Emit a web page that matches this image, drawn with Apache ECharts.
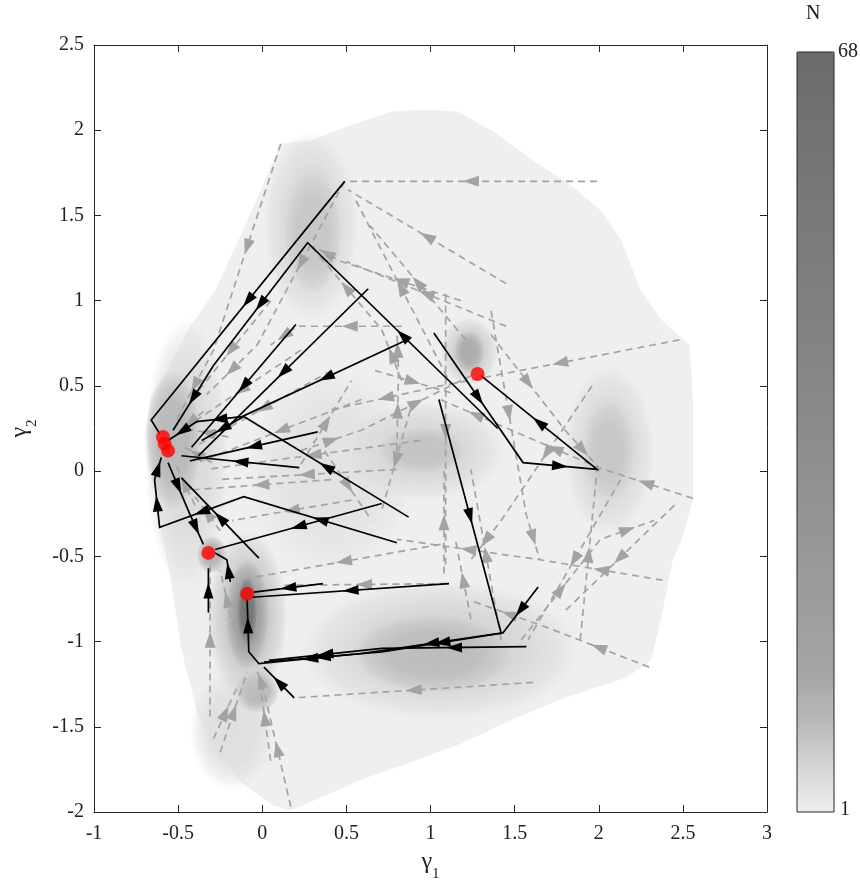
<!DOCTYPE html>
<html><head><meta charset="utf-8">
<script src="https://cdn.jsdelivr.net/npm/echarts@6/dist/echarts.min.js"></script>
<style>html,body{margin:0;padding:0;background:#fff}#c{width:860px;height:892px}</style>
</head><body><div id="c"></div>
<script>
// Outline of the density region (gamma1, gamma2)
const hull = [
 [0.11,1.92],[0.29,1.94],[0.50,2.02],[0.77,2.11],[0.97,2.12],[1.16,2.11],[1.36,2.00],[1.60,1.83],
 [1.83,1.68],[2.01,1.53],[2.13,1.36],[2.25,1.06],[2.37,0.89],[2.54,0.74],[2.56,0.42],[2.56,-0.17],
 [2.49,-0.41],[2.44,-0.52],[2.37,-0.87],[2.31,-1.11],[2.17,-1.21],[1.77,-1.34],[1.48,-1.46],[1.18,-1.60],
 [0.88,-1.71],[0.59,-1.81],[0.41,-1.89],[0.17,-1.99],[0.06,-1.96],[-0.12,-1.83],[-0.28,-1.64],[-0.38,-1.44],
 [-0.48,-1.05],[-0.54,-0.66],[-0.60,-0.35],[-0.66,0.05],[-0.69,0.24],[-0.66,0.43],[-0.52,0.67],[-0.44,0.83],
 [-0.28,1.06],[-0.12,1.40],[0.01,1.69]
];
// Density blobs: [gamma1, gamma2, radius1, radius2, N]
const densityBlobs = [
 [0.41,0.00,0.50,0.60,3],[-0.18,-1.52,0.25,0.35,3.5],[-0.45,0.10,0.25,0.80,4],
 [0.29,1.44,0.28,0.56,4.5],[0.30,1.40,0.17,0.36,7],
 [1.23,0.70,0.17,0.20,6],[1.23,0.70,0.09,0.12,12],
 [0.97,0.12,0.47,0.29,4.5],[0.95,0.12,0.26,0.14,7.5],
 [2.06,0.12,0.27,0.50,4.5],[2.06,0.12,0.15,0.29,7],
 [1.06,-1.05,0.83,0.41,5],[1.02,-1.07,0.47,0.23,8.5],
 [-0.53,0.18,0.17,0.41,9],[-0.30,-0.49,0.09,0.11,10],[-0.03,-1.29,0.13,0.13,9],
 [-0.09,-0.85,0.24,0.50,7],[-0.09,-0.84,0.13,0.32,20],[-0.09,-0.82,0.06,0.20,60]
];
// Solid (black) trajectories
const blackPaths = [
 [[0.49,1.70],[-0.66,0.30],[-0.61,0.22]],
 [[1.40,0.25],[0.27,1.34],[-0.29,0.62],[-0.53,0.24]],
 [[0.20,0.86],[-0.42,0.14]],
 [[0.63,1.07],[-0.38,0.09]],
 [[0.88,0.78],[-0.12,0.32],[-0.39,0.29],[-0.56,0.18]],
 [[0.33,0.23],[-0.43,0.06]],
 [[0.22,0.02],[-0.48,0.09]],
 [[0.87,-0.27],[-0.11,0.32],[-0.36,0.18]],
 [[1.02,0.81],[1.55,0.05],[1.99,0.01],[1.30,0.56]],
 [[1.05,0.42],[1.42,-0.95],[0.59,-1.07],[-0.02,-1.13],[-0.08,-1.06],[-0.09,-0.75]],
 [[1.64,-0.68],[1.43,-0.95],[0.71,-1.06],[0.01,-1.12]],
 [[1.57,-1.03],[0.71,-1.04],[0.04,-1.11]],
 [[0.19,-1.33],[0.01,-1.15]],
 [[1.11,-0.66],[-0.06,-0.74]],
 [[0.36,-0.66],[-0.05,-0.71]],
 [[0.71,-0.19],[-0.28,-0.46]],
 [[0.80,-0.42],[-0.11,-0.15],[-0.61,-0.33],[-0.64,-0.05],[-0.60,0.08]],
 [[-0.02,-0.51],[-0.48,-0.04]],
 [[-0.32,-0.83],[-0.32,-0.57]],
 [[-0.19,-0.65],[-0.21,-0.52],[-0.28,-0.48]],
 [[-0.56,0.05],[-0.44,-0.23],[-0.35,-0.43]]
];
// Dashed (grey) trajectories
const greyPaths = [
 [[1.99,1.70],[0.49,1.70]],
 [[1.45,1.10],[0.51,1.65]],
 [[1.10,0.55],[0.55,1.60]],
 [[0.11,1.92],[-0.29,0.71],[-0.51,0.30]],
 [[0.49,1.70],[-0.03,0.74],[-0.33,0.45]],
 [[1.18,1.00],[0.47,1.23],[0.30,1.32]],
 [[1.21,0.77],[0.64,1.44]],
 [[0.83,0.85],[0.21,0.85],[0.05,0.74]],
 [[1.45,0.85],[0.50,1.23]],
 [[1.09,1.04],[1.09,-0.58]],
 [[1.08,-0.60],[1.08,0.00]],
 [[1.36,0.94],[1.57,-0.26],[1.65,-0.52]],
 [[2.48,0.77],[1.06,0.50],[0.41,0.36]],
 [[0.23,0.12],[0.59,0.24],[1.24,0.56]],
 [[1.96,0.50],[1.42,-0.29],[1.24,-0.52]],
 [[2.56,-0.16],[2.00,0.02],[1.48,0.24],[1.06,0.42]],
 [[2.45,-0.20],[1.80,-0.82]],
 [[1.89,-0.99],[1.99,0.01]],
 [[1.36,0.80],[1.80,0.24],[2.01,0.01]],
 [[2.38,-0.64],[1.65,-0.52],[0.80,-0.40]],
 [[2.13,-0.05],[1.58,-0.99]],
 [[2.30,-1.15],[1.70,-0.92],[1.24,-0.76]],
 [[1.61,-1.24],[0.19,-1.33]],
 [[1.10,-0.66],[0.11,-0.67]],
 [[1.06,-0.43],[-0.09,-0.63]],
 [[0.17,-1.97],[0.01,-1.29],[-0.03,-1.17]],
 [[0.05,-1.70],[-0.02,-1.20]],
 [[-0.25,-1.65],[-0.09,-1.18]],
 [[-0.29,-1.57],[-0.15,-1.27]],
 [[-0.31,-1.44],[-0.31,-0.54]],
 [[-0.17,-0.93],[-0.25,-0.58]],
 [[0.41,0.59],[-0.39,0.15]],
 [[0.59,0.42],[-0.36,0.06]],
 [[0.94,0.18],[-0.33,0.01]],
 [[0.80,0.01],[-0.27,-0.05]],
 [[0.41,-0.05],[-0.42,-0.11]],
 [[0.53,-0.17],[-0.18,-0.29]],
 [[0.23,0.71],[-0.48,0.24]],
 [[0.05,1.00],[-0.42,0.42]],
 [[0.80,0.12],[0.81,0.59],[0.80,0.83]],
 [[0.23,0.04],[0.53,0.53]],
 [[0.88,0.36],[0.71,-0.23]],
 [[0.37,0.12],[0.65,-0.29]],
 [[0.67,0.59],[1.12,0.46]],
 [[1.24,-0.87],[1.15,-0.41]],
 [[1.42,-0.99],[1.24,0.01]],
 [[1.54,-0.99],[2.01,-0.40],[2.33,-0.29]],
 [[0.83,0.53],[0.71,0.83],[0.29,1.32]],
 [[-0.35,0.35],[-0.50,0.22]],
 [[-0.30,0.05],[-0.48,0.15]],
 [[-0.40,-0.20],[-0.52,0.05]],
 [[-0.25,-0.35],[-0.40,-0.15]],
 [[-0.20,0.20],[-0.45,0.25]]
];
// Red end points
const endPoints = [[1.28,0.57],[-0.59,0.20],[-0.58,0.16],[-0.56,0.12],[-0.32,-0.48],[-0.09,-0.72]];
// Colour bar
const cbN = [1, 3, 6, 9, 14, 35, 68];
const cbGrey = [238, 226, 206, 184, 163, 139, 107];
const cbMin = 1, cbMax = 68;

function greyAt(n){
  let i = 0;
  while (i < cbN.length - 2 && n > cbN[i+1]) i++;
  const t = Math.max(0, Math.min(1, (n - cbN[i]) / (cbN[i+1] - cbN[i])));
  const g = Math.round(cbGrey[i] + t * (cbGrey[i+1] - cbGrey[i]));
  return 'rgb(' + g + ',' + g + ',' + g + ')';
}
const cbColors = [];
for (let n = cbMin; n <= cbMax; n++) cbColors.push(greyAt(n));

function withAlpha(c, a){
  const m = String(c).match(/[\d.]+/g) || [200,200,200];
  return 'rgba(' + m[0] + ',' + m[1] + ',' + m[2] + ',' + a + ')';
}

function pathRenderer(paths, color, dash, lw, headL, headW){
  return function(params, api){
    const pts = paths[params.dataIndex].map(p => api.coord(p));
    const ch = [{type:'polyline', shape:{points:pts}, style:{stroke:color, lineWidth:lw, lineDash:dash, fill:'none'}}];
    for (let i = 0; i < pts.length - 1; i++){
      const a = pts[i], b = pts[i+1];
      const dx = b[0]-a[0], dy = b[1]-a[1], L = Math.hypot(dx, dy);
      if (L < 20) continue;
      const ux = dx/L, uy = dy/L, mx = (a[0]+b[0])/2, my = (a[1]+b[1])/2;
      const tip = [mx + ux*headL/2, my + uy*headL/2];
      const bx = mx - ux*headL/2, by = my - uy*headL/2;
      ch.push({type:'polygon', shape:{points:[tip,[bx - uy*headW/2, by + ux*headW/2],[bx + uy*headW/2, by - ux*headW/2]]},
        style:{fill:color, stroke:'none'}});
    }
    return {type:'group', children:ch};
  };
}

const serif = 'Liberation Serif, Times New Roman, serif';
const axisCol = '#262626';
function baseAxis(extra){
  return Object.assign({
    type:'value', splitLine:{show:false},
    axisLine:{onZero:false, lineStyle:{color:axisCol, width:1}},
    axisTick:{inside:true, length:7, lineStyle:{color:axisCol}},
    axisLabel:{fontFamily:serif, fontSize:20, color:'#222'}
  }, extra);
}
const nameRich = {
  g:{fontFamily:serif, fontSize:24, color:'#222', lineHeight:28, verticalAlign:'top'},
  s:{fontFamily:serif, fontSize:15, color:'#222', lineHeight:28, verticalAlign:'bottom', padding:[0,0,-4,0]}
};

const chart = echarts.init(document.getElementById('c'), null, {renderer:'canvas'});
chart.setOption({
  animation:false,
  backgroundColor:'#fff',
  grid:{left:92, right:93, top:45, bottom:80, containLabel:false},
  xAxis:[
    baseAxis({min:-1, max:3, interval:0.5, position:'bottom',
      axisLabel:{fontFamily:serif, fontSize:20, color:'#222', margin:12},
      name:'{g|γ}{s|1}', nameLocation:'middle', nameGap:38, nameTextStyle:{rich:nameRich}}),
    baseAxis({min:-1, max:3, interval:0.5, position:'top', axisLabel:{show:false}})
  ],
  yAxis:[
    baseAxis({min:-2, max:2.5, interval:0.5, position:'left',
      axisLabel:{fontFamily:serif, fontSize:20, color:'#222', margin:10},
      name:'{g|γ}{s|2}', nameLocation:'middle', nameGap:58, nameTextStyle:{rich:nameRich}}),
    baseAxis({min:-2, max:2.5, interval:0.5, position:'right', axisLabel:{show:false}})
  ],
  visualMap:{
    type:'continuous', min:cbMin, max:cbMax, seriesIndex:1, dimension:4,
    orient:'vertical', left:797, top:52, itemWidth:37, itemHeight:760,
    padding:0, calculable:false, hoverLink:false, text:null,
    inRange:{color:cbColors}
  },
  graphic:[
    {type:'rect', shape:{x:797, y:52, width:37, height:760}, style:{fill:'none', stroke:axisCol, lineWidth:1}, z:10},
    {type:'text', left:838, top:42, style:{text:'68', font:'20px ' + serif, fill:'#222'}},
    {type:'text', left:840, top:800, style:{text:'1', font:'20px ' + serif, fill:'#222'}},
    {type:'text', left:806, top:4, style:{text:'N', font:'20px ' + serif, fill:'#222'}}
  ],
  series:[
    {type:'custom', z:1, silent:true, data:[hull[0]],
      renderItem:function(params, api){
        return {type:'polygon', shape:{points:hull.map(p => api.coord(p))}, style:{fill:'rgb(239,239,239)', stroke:'none'}};
      }},
    {type:'custom', z:2, silent:true, data:densityBlobs,
      renderItem:function(params, api){
        const c = api.coord([api.value(0), api.value(1)]);
        const sx = api.size([api.value(2), 0])[0];
        const sy = api.size([0, api.value(3)])[1];
        const col = api.visual('color');
        return {type:'circle', x:c[0], y:c[1], scaleX:sx, scaleY:sy, shape:{cx:0, cy:0, r:1},
          style:{fill:new echarts.graphic.RadialGradient(0.5, 0.5, 0.5, [
            {offset:0, color:withAlpha(col, 1)}, {offset:0.55, color:withAlpha(col, 0.9)},
            {offset:0.85, color:withAlpha(col, 0.4)}, {offset:1, color:withAlpha(col, 0)}])}};
      }},
    {type:'custom', z:3, silent:true, data:greyPaths.map(p => p[0]),
      renderItem:pathRenderer(greyPaths, '#a3a3a3', [7,5], 1.7, 16, 11)},
    {type:'custom', z:4, silent:true, data:blackPaths.map(p => p[0]),
      renderItem:pathRenderer(blackPaths, '#000', null, 1.7, 16, 10)},
    {type:'scatter', z:5, silent:true, data:endPoints, symbolSize:14, itemStyle:{color:'#ff0000'}}
  ]
});
</script></body></html>
